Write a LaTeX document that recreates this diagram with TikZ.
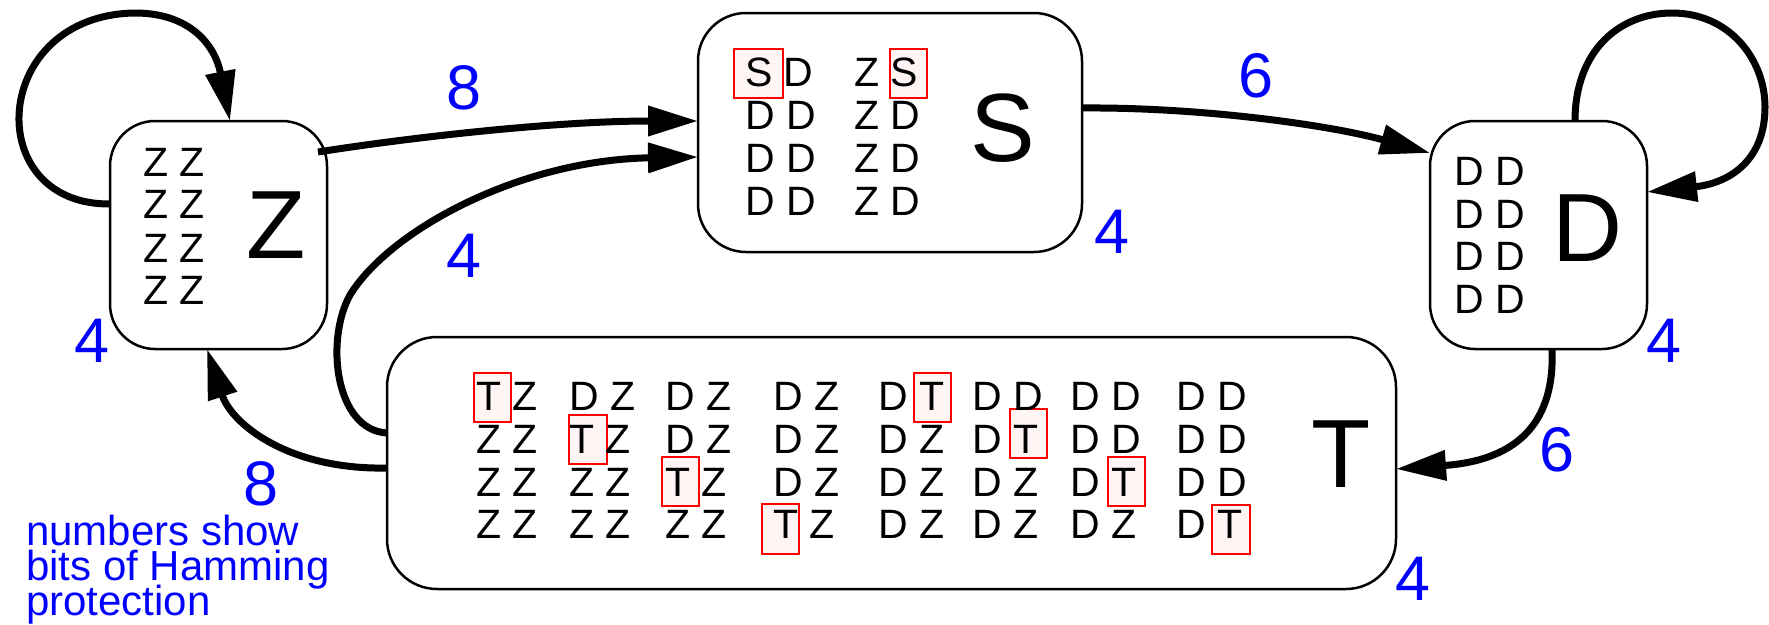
\documentclass[tikz,border=0pt]{standalone}
\usepackage{fontspec}
\setmainfont{Liberation Sans}
\usetikzlibrary{arrows.meta,calc}
\definecolor{hblue}{RGB}{0,0,255}
\definecolor{hred}{RGB}{255,0,0}
\definecolor{hpink}{RGB}{255,245,245}
\begin{document}
\begin{tikzpicture}[x=1pt,y=-1pt,
  box/.style={draw, line width=2.5pt, rounded corners=#1, inner sep=0pt, outer sep=0pt},
  sm/.style={anchor=base west, inner sep=0pt, font=\fontsize{41}{41}\selectfont},
  bg/.style={anchor=base west, inner sep=0pt, font=\fontsize{97}{97}\selectfont},
  num/.style={anchor=base, inner sep=0pt, text depth=0pt, text=hblue, font=\fontsize{63}{63}\selectfont},
  leg/.style={anchor=base west, inner sep=0pt, text height=31pt, text depth=0pt, text=hblue, font=\fontsize{42}{42}\selectfont},
  redbox/.style={draw=hred, fill=hpink, line width=2pt},
  conn/.style={line width=7pt, -{Triangle[length=50pt,width=29pt]}}]
\useasboundingbox (0,0) rectangle (1769,624);

% state boxes
\node[box=45pt, minimum width=217pt, minimum height=228pt] (Z) at (218.5,235) {};
\node[box=48pt, minimum width=384pt, minimum height=239pt] (S) at (890,132.5) {};
\node[box=45pt, minimum width=217pt, minimum height=228pt] (D) at (1538.5,235) {};
\node[box=50pt, minimum width=1009pt, minimum height=252pt] (T) at (891.5,463) {};

% red highlight boxes
\draw[redbox] (734,49) rectangle (783,98);
\draw[redbox] (890,49) rectangle (927,98);
\draw[redbox] (474,373) rectangle (511,422);
\draw[redbox] (914,373) rectangle (951,422);
\draw[redbox] (569,415) rectangle (607,464);
\draw[redbox] (1010,409) rectangle (1047,458);
\draw[redbox] (662,457) rectangle (699,506);
\draw[redbox] (1108,457) rectangle (1145,506);
\draw[redbox] (762,504) rectangle (799,554);
\draw[redbox] (1212,505) rectangle (1250,554);

% Z box contents
\foreach \y [count=\r] in {176,218,262,304}
  \node[sm] (z-\r) at (143,\y) {Z Z};
\node[bg] (zbig) at (246,258) {Z};

% S box contents
\node[sm] (s-1a) at (745,86) {S D};
\node[sm] (s-1b) at (854,86) {Z S};
\foreach \y [count=\r from 2] in {129,172,215} {
  \node[sm] (s-\r a) at (745,\y) {D D};
  \node[sm] (s-\r b) at (854,\y) {Z D};
}
\node[bg] (sbig) at (970,161) {S};

% D box contents
\foreach \y [count=\r] in {185,228,270,313}
  \node[sm] (d-\r) at (1454,\y) {D D};
\node[bg] (dbig) at (1552,261) {D};

% T box contents
\foreach \y/\row [count=\r] in {
  410/{T Z,D Z,D Z,D Z,D T,D D,D D,D D},
  453/{Z Z,T Z,D Z,D Z,D Z,D T,D D,D D},
  496/{Z Z,Z Z,T Z,D Z,D Z,D Z,D T,D D},
  538/{Z Z,Z Z,Z Z,T Z,D Z,D Z,D Z,D T}} {
  \foreach \t [count=\c] in \row {
    \pgfmathsetmacro{\xx}{{476,569,665,773,878,972,1070,1176}[\c-1]}
    \node[sm] (t-\r-\c) at (\xx,\y) {\t};
  }
}
\node[bg] (tbig) at (1311,487) {T};

% connectors
\draw[conn] ($(Z.west)+(0,-31)$) .. controls (-20,205) and (-10,15) .. (135,13)
  .. controls (190,13) and (215,45) .. ($(Z.north)+(11.5,0)$);
\draw[conn] ($(Z.east)+(-9,-83)$) .. controls (420,136) and (560,121) .. ($(S.west)+(0,-11.5)$);
\draw[conn] ($(T.west)+(0,-30)$) .. controls (335,430) and (325,340) .. (350,295)
  .. controls (390,230) and (520,160) .. ($(S.west)+(0,24.5)$);
\draw[conn] ($(T.west)+(0,5)$) .. controls (290,470) and (232,425) .. ($(Z.south)+(-11.5,0)$);
\draw[conn] ($(S.east)+(0,-24.5)$) .. controls (1200,107) and (1330,125) .. ($(D.west)+(0,-82)$);
\draw[conn] ($(D.north)+(36.5,0)$) .. controls (1575,50) and (1620,13) .. (1672,13)
  .. controls (1730,13) and (1765,60) .. (1765,107)
  .. controls (1765,160) and (1730,183) .. ($(D.east)+(0,-43)$);
\draw[conn] ($(D.south)+(13.5,0)$) .. controls (1555,420) and (1520,460) .. ($(T.east)+(0,6)$);

% labels
\node[num] (n1) at (464.5,109) {8};
\node[num] (n2) at (1256.5,97) {6};
\node[num] (n3) at (464.5,277) {4};
\node[num] (n4) at (1112,253) {4};
\node[num] (n5) at (92.5,362) {4};
\node[num] (n6) at (1664,362) {4};
\node[num] (n7) at (1413,600) {4};
\node[num] (n8) at (261,505) {8};
\node[num] (n9) at (1557,471) {6};

\node[leg] (leg1) at (26,545) {numbers show};
\node[leg] (leg2) at (26,580) {bits of Hamming};
\node[leg] (leg3) at (26,615) {protection};
\end{tikzpicture}
\end{document}
